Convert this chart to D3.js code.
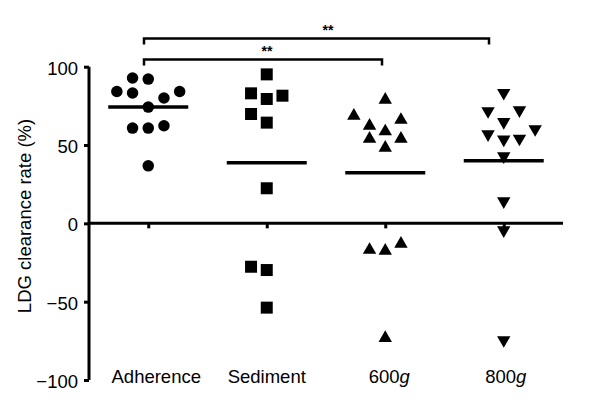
<!DOCTYPE html>
<html><head><meta charset="utf-8">
<script src="https://cdn.jsdelivr.net/npm/d3@7"></script>
<style>
body{margin:0;background:#fff;}
text{font-family:"Liberation Sans",Arial,sans-serif;fill:#000;}
</style></head>
<body><svg id="c" width="604" height="402"></svg>
<script>
const categories = ["Adherence","Sediment","600","800"];
const adherence = [92.8,92.1,84.2,83.2,84.2,80.0,74.2,60.8,60.8,62.3,36.7];
const adherenceJitter = [-1,0,-2,-1,2,1,0,-1,0,1,0];
const sediment = [95.1,83.0,79.4,81.5,69.8,64.3,22.4,-27.7,-29.8,-53.8];
const sedimentJitter = [0,-1,0,1,-1,0,0,-1,0,0];
const g600 = [79.8,69.6,67.0,63.2,59.6,54.9,54.9,49.2,-12.1,-16.0,-16.6,-72.3];
const g600Jitter = [0,-2,1,-1,0,-1,1,0,1,-1,0,0];
const g800 = [82.4,70.7,71.3,63.8,59.2,56.0,52.6,53.2,41.9,13.2,-5.3,-75.5];
const g800Jitter = [0,-1,1,0,2,-1,0,1,0,0,0,0];
const means = [74.2,38.7,32.3,40.0];
const yTicks = [100,50,0,-50,-100];
const brackets = [{from:0,to:3,label:"**"},{from:0,to:2,label:"**"}];

const svg = d3.select("#c");
const x = d3.scalePoint().domain(categories).range([89,563]).padding(0.5);
const y = d3.scaleLinear().domain([-100,100]).range([380,66.7]);
const jitterStep = 15.7;

// y axis
const yAxis = d3.axisLeft(y).tickValues(yTicks).tickSize(5).tickPadding(6)
  .tickFormat(d => d < 0 ? "\u2212" + Math.abs(d) : d);
const ga = svg.append("g").attr("transform","translate(89,0)").call(yAxis);
ga.select(".domain").attr("stroke","#000").attr("stroke-width",3).attr("d","M0,"+y(100)+"V"+y(-100));
ga.selectAll(".tick line").attr("stroke","#000").attr("stroke-width",3);
ga.selectAll(".tick text").attr("font-size","18.5px").attr("font-family","Liberation Sans, Arial, sans-serif").attr("dy","0.4em").attr("fill","#000");

// x axis at zero
const xAxis = d3.axisBottom(x).tickSize(5).tickFormat("");
const gx = svg.append("g").attr("transform","translate(0,"+y(0)+")").call(xAxis);
gx.select(".domain").attr("stroke","#000").attr("stroke-width",3).attr("d","M89,0H563");
gx.selectAll(".tick line").attr("stroke","#000").attr("stroke-width",3);

// category labels
const labelShift = [8,0,4,2];
categories.forEach((c,i) => {
  const t = svg.append("text").attr("x", x(c)+labelShift[i]).attr("y", 382.5)
    .attr("text-anchor","middle").attr("font-size","18.5px");
  if (i < 2) t.text(c);
  else { t.append("tspan").text(c); t.append("tspan").attr("font-style","italic").text("g"); }
});

// y label
svg.append("text").attr("transform","translate(31,216) rotate(-90)")
  .attr("text-anchor","middle").attr("font-size","18.5px").text("LDG clearance rate (%)");

// points
const groups = [
  {vals:adherence, jit:adherenceJitter, sym:d3.symbolCircle, size:104, rot:0},
  {vals:sediment, jit:sedimentJitter, sym:d3.symbolSquare, size:144, rot:0},
  {vals:g600, jit:g600Jitter, sym:d3.symbolTriangle, size:78, rot:0},
  {vals:g800, jit:g800Jitter, sym:d3.symbolTriangle, size:78, rot:180}
];
groups.forEach((g,i) => {
  const cx = x(categories[i]);
  svg.append("g").selectAll("path").data(g.vals).join("path")
    .attr("d", d3.symbol().type(g.sym).size(g.size))
    .attr("transform", (d,j) => "translate(" + (cx + g.jit[j]*jitterStep) + "," + (y(d) + (g.rot ? -1.5 : 1.5)*(g.sym===d3.symbolTriangle?1:0)) + ") rotate(" + g.rot + ")")
    .attr("fill","#000");
});

// mean lines
svg.append("g").selectAll("line").data(means).join("line")
  .attr("x1",(d,i)=>x(categories[i])-40).attr("x2",(d,i)=>x(categories[i])+40)
  .attr("y1",d=>y(d)).attr("y2",d=>y(d))
  .attr("stroke","#000").attr("stroke-width",3.5);

// significance brackets
const bY = [38.5, 59.5];
const bEnds = [[144,489],[144,382]];
brackets.forEach((b,i) => {
  const x1 = bEnds[i][0], x2 = bEnds[i][1], yy = bY[i];
  svg.append("path").attr("d","M"+x1+","+(yy+6)+"V"+yy+"H"+x2+"V"+(yy+6))
    .attr("fill","none").attr("stroke","#000").attr("stroke-width",2.5);
  svg.append("text").attr("x", i===0 ? 328 : 267).attr("y", yy-4)
    .attr("text-anchor","middle").attr("font-size","14px").attr("font-weight","bold").text(b.label);
});
</script></body></html>
